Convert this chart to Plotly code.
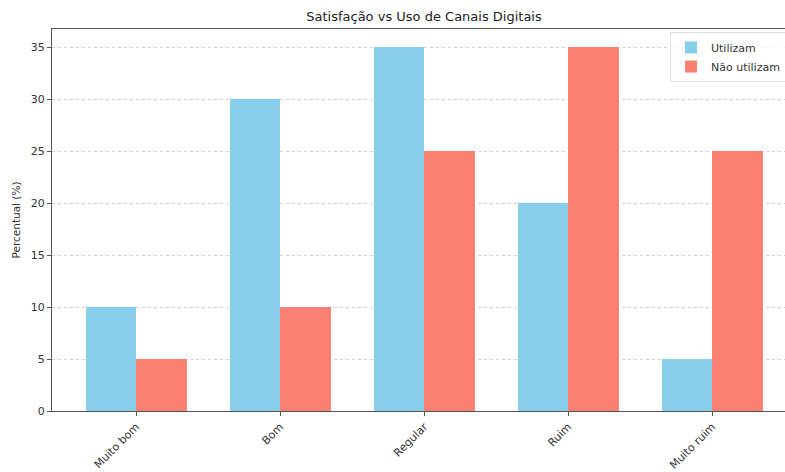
import plotly.graph_objects as go

categorias = ["Muito bom", "Bom", "Regular", "Ruim", "Muito ruim"]
utilizam = [10, 30, 35, 20, 5]
nao_utilizam = [5, 10, 25, 35, 25]
yticks = [0, 5, 10, 15, 20, 25, 30, 35]

W, H = 785, 472
L, T, B = 52, 29, 61
px_per_cat = 144.0
x0 = -0.585
x1 = x0 + (W - L) / px_per_cat

xs = list(range(len(categorias)))
w = 0.35

fig = go.Figure()
fig.add_trace(go.Bar(x=[i - w / 2 for i in xs], y=utilizam, width=w, name="Utilizam",
                     marker=dict(color="#87CEEB", line=dict(width=0))))
fig.add_trace(go.Bar(x=[i + w / 2 for i in xs], y=nao_utilizam, width=w, name="Não utilizam",
                     marker=dict(color="#FA8072", line=dict(width=0))))

font = "DejaVu Sans"
fig.update_layout(
    width=W, height=H,
    margin=dict(l=L, r=0, t=T, b=B, autoexpand=False),
    plot_bgcolor="white", paper_bgcolor="white",
    font=dict(family=font, size=11, color="#333"),
    title=dict(text="Satisfação vs Uso de Canais Digitais", x=424 / W, xanchor="center",
               y=1 - 16 / H, yanchor="middle", font=dict(size=13, color="#222")),
    barmode="overlay",
    bargap=0,
    showlegend=True,
    legend=dict(x=(670 - L) / (W - L), xanchor="left", y=1 - 3 / (H - T - B), yanchor="top",
                bgcolor="rgba(255,255,255,0.8)", bordercolor="#ddd", borderwidth=1,
                itemwidth=30, font=dict(size=11, color="#333"), tracegroupgap=0),
    xaxis=dict(range=[x0, x1], tickmode="array", tickvals=xs, ticktext=categorias,
               tickangle=-45, showgrid=False, zeroline=False, automargin=False,
               showline=True, linecolor="#555", linewidth=1, mirror=True,
               ticks="outside", ticklen=4, tickcolor="#555", tickfont=dict(size=11)),
    yaxis=dict(range=[0, 36.75], tickmode="array", tickvals=yticks, automargin=False,
               title=dict(text="Percentual (%)", font=dict(size=10.5), standoff=8),
               showgrid=True, gridcolor="#cfcfcf", griddash="3px,3px", gridwidth=0.8,
               zeroline=False, showline=True, linecolor="#555", linewidth=1,
               ticks="outside", ticklen=4, tickcolor="#555", tickfont=dict(size=11)),
)

fig.write_html("out.html", config={"displayModeBar": False},
               post_script="document.body.style.margin='0';document.body.style.overflow='hidden';")
